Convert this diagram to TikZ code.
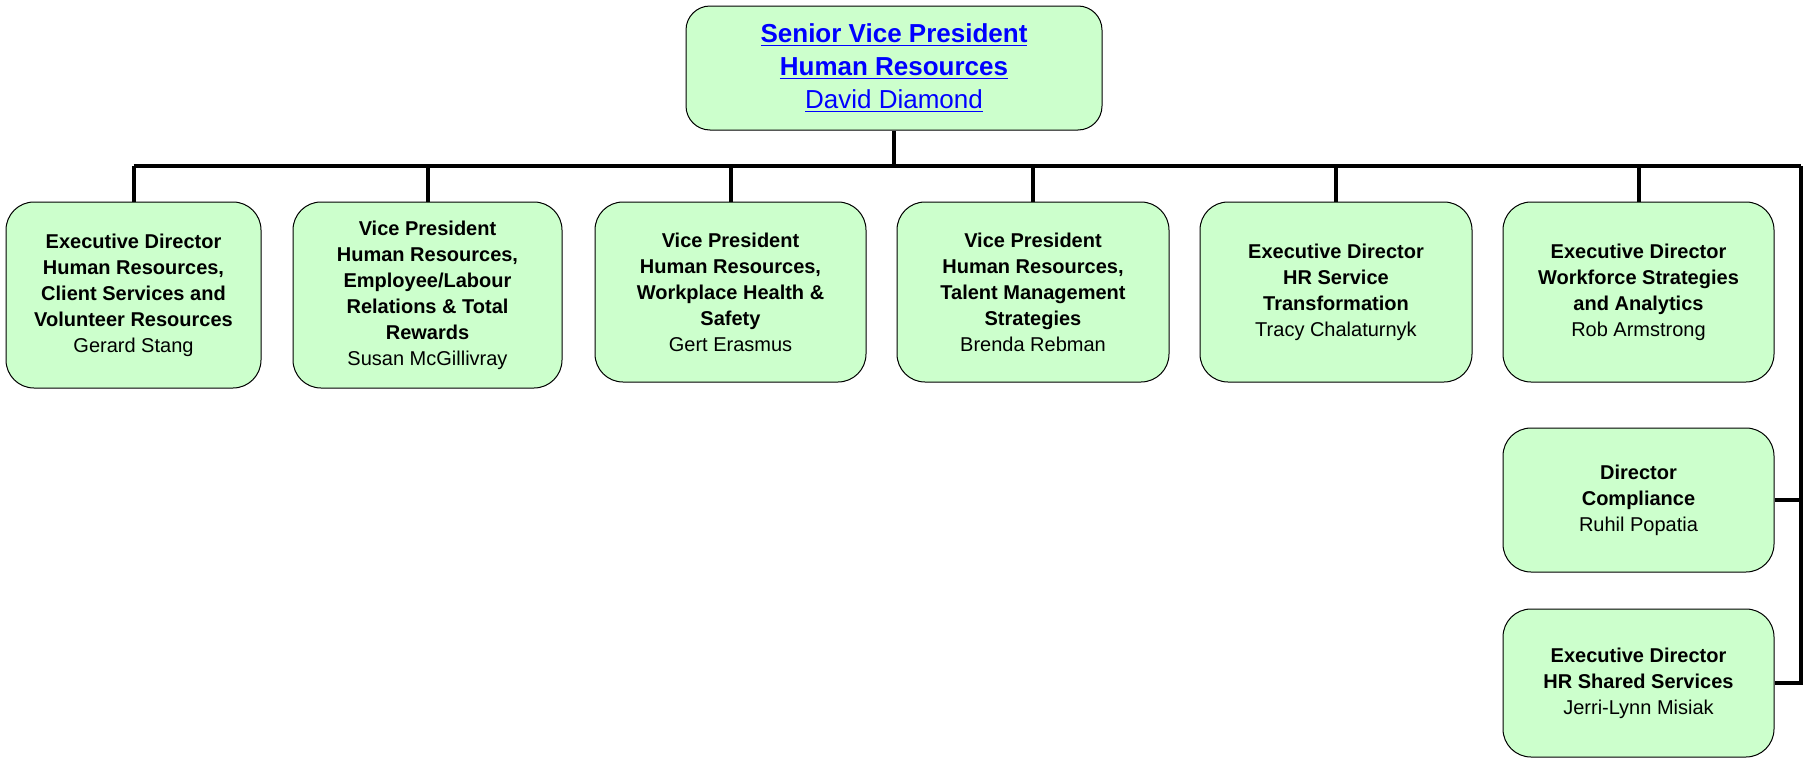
\documentclass[tikz,border=0pt]{standalone}
\usepackage{fontspec}
\setmainfont{Liberation Sans}
\usepackage{tikz}
\usetikzlibrary{positioning,calc}
\usepackage{xcolor}
\definecolor{hrFill}{HTML}{CCFFCC}
\definecolor{hrLink}{HTML}{0000FF}
\definecolor{hrLine}{HTML}{000000}
\tikzset{
    unitbox/.style={draw=hrLine,line width=0.5pt,fill=hrFill,rounded corners=14pt,align=center,
        font=\fontsize{10}{13}\selectfont,inner sep=2pt},
    headbox/.style={unitbox,rounded corners=12pt,font=\fontsize{13}{16.4}\selectfont,text=hrLink},
    orgline/.style={draw=hrLine,line width=2pt}
}

\begin{document}
\begin{tikzpicture}[x=0.5pt,y=-0.5pt]
\useasboundingbox (0,0) rectangle (1806,760);

% Head of the unit
\node[headbox,minimum width=208pt,minimum height=62pt] at (894,68) (svp) {\textbf{\underline{Senior Vice President}}\\\textbf{\underline{Human Resources}}\\\underline{David Diamond}};

% First row of reports
\node[unitbox,minimum width=127.5pt,minimum height=93pt] at (133.5,295) (ed1) {\textbf{Executive Director}\\\textbf{Human Resources,}\\\textbf{Client Services and}\\\textbf{Volunteer Resources}\\Gerard Stang};
\node[unitbox,minimum width=134.5pt,minimum height=93pt] at (427.5,295) (vp1) {\textbf{Vice President}\\\textbf{Human Resources,}\\\textbf{Employee/Labour}\\\textbf{Relations \& Total}\\\textbf{Rewards}\\Susan McGillivray};
\node[unitbox,minimum width=135.5pt,minimum height=90pt] at (730.5,292) (vp2) {\textbf{Vice President}\\\textbf{Human Resources,}\\\textbf{Workplace Health \&}\\\textbf{Safety}\\Gert Erasmus};
\node[unitbox,minimum width=136pt,minimum height=90pt] at (1033,292) (vp3) {\textbf{Vice President}\\\textbf{Human Resources,}\\\textbf{Talent Management}\\\textbf{Strategies}\\Brenda Rebman};
\node[unitbox,minimum width=136pt,minimum height=90pt] at (1336,292) (ed2) {\textbf{Executive Director}\\\textbf{HR Service}\\\textbf{Transformation}\\Tracy Chalaturnyk};
\node[unitbox,minimum width=135.5pt,minimum height=90pt] at (1638.5,292) (ed3) {\textbf{Executive Director}\\\textbf{Workforce Strategies}\\\textbf{and Analytics}\\Rob Armstrong};

% Reports hanging off the right side
\node[unitbox,minimum width=135.5pt,minimum height=72pt] at (1638.5,500) (dir) {\textbf{Director}\\\textbf{Compliance}\\Ruhil Popatia};
\node[unitbox,minimum width=135.5pt,minimum height=74pt] at (1638.5,683) (ed4) {\textbf{Executive Director}\\\textbf{HR Shared Services}\\Jerri-Lynn Misiak};

% Connectors
\coordinate (barR) at (1801,166);
\draw[orgline] (svp.south) -- (svp.south |- barR);
\draw[orgline] (ed1.north |- barR) -- (barR);
\foreach \n in {ed1,vp1,vp2,vp3,ed2,ed3}
    \draw[orgline] (\n.north) -- (\n.north |- barR);
\draw[orgline] (barR) |- (ed4.east);
\draw[orgline] (dir.east) -- (dir.east -| barR);

\end{tikzpicture}
\end{document}
